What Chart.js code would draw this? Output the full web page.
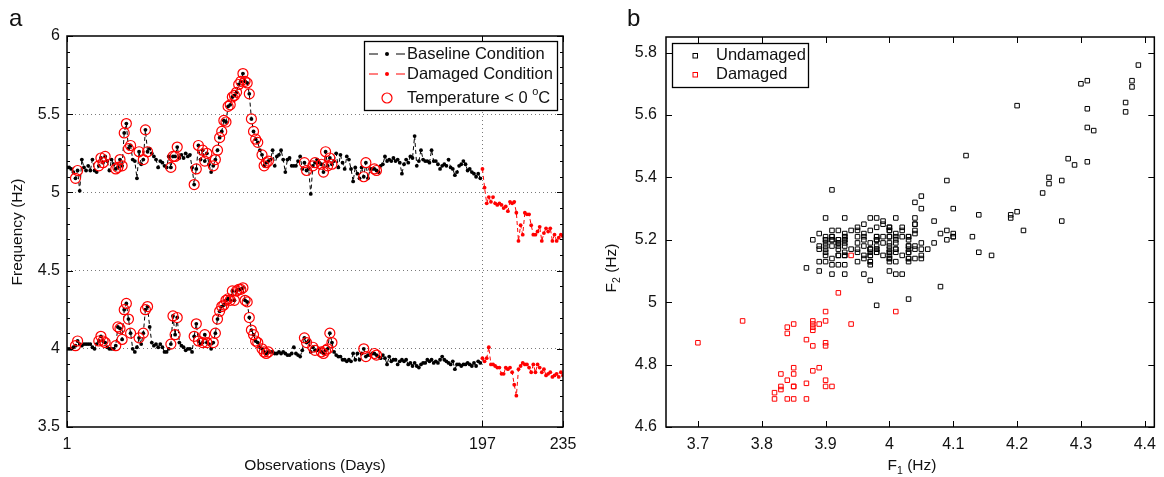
<!DOCTYPE html>
<html>
<head>
<meta charset="utf-8">
<style>
  html, body { margin: 0; background: #fff; }
  #wrap { position: relative; width: 1164px; height: 477px; }
  canvas { position: absolute; top: 0; }
</style>
<script src="https://cdn.jsdelivr.net/npm/chart.js@4.4.0/dist/chart.umd.min.js"></script>
</head>
<body>
<div id="wrap">
  <canvas id="chartA" width="590" height="477" style="left:0"></canvas>
  <canvas id="chartB" width="574" height="477" style="left:590px"></canvas>
</div>
<script>
// first natural frequency F1 (Hz), baseline days 1..196
const f1Base = [
  4.00, 4.00, 4.00, 4.01, 4.02, 4.05, 4.03, 4.02, 4.03, 4.03,
  4.03, 4.03, 4.01, 4.00, 4.03, 4.05, 4.08, 4.05, 4.04, 4.01,
  4.00, 4.00, 4.00, 4.02, 4.14, 4.13, 4.06, 4.25, 4.29, 4.19,
  4.10, 4.00, 3.98, 4.01, 4.07, 4.03, 4.10, 4.25, 4.27, 4.14,
  4.04, 4.02, 4.03, 4.01, 4.03, 4.01, 3.98, 3.98, 4.00, 4.03,
  4.21, 4.09, 4.20, 4.04, 4.02, 4.01, 3.99, 4.00, 4.00, 3.98,
  4.08, 4.16, 4.05, 4.03, 4.04, 4.09, 4.04, 4.03, 4.00, 4.04,
  4.10, 4.19, 4.24, 4.27, 4.28, 4.31, 4.32, 4.31, 4.37, 4.31,
  4.37, 4.38, 4.38, 4.39, 4.31, 4.30, 4.20, 4.12, 4.09, 4.05,
  4.04, 4.01, 4.00, 3.98, 3.97, 3.98, 3.98, 3.98, 3.97, 3.97,
  3.98, 3.97, 3.98, 3.97, 3.96, 3.96, 3.97, 4.01, 3.97, 3.96,
  3.95, 3.99, 4.07, 4.04, 4.05, 3.98, 4.01, 3.99, 3.99, 4.00,
  3.98, 3.97, 3.99, 4.00, 4.10, 4.04, 3.98, 3.96, 3.95, 3.95,
  3.93, 3.93, 3.92, 3.93, 3.92, 3.97, 3.93, 3.97, 3.93, 3.97,
  4.00, 3.95, 3.96, 3.96, 3.97, 3.97, 3.96, 3.95, 3.94, 3.96,
  3.94, 3.90, 3.95, 3.92, 3.93, 3.93, 3.90, 3.92, 3.93, 3.92,
  3.93, 3.90, 3.91, 3.89, 3.91, 3.89, 3.88, 3.90, 3.91, 3.91,
  3.93, 3.92, 3.93, 3.91, 3.92, 3.91, 3.93, 3.95, 3.93, 3.92,
  3.91, 3.90, 3.92, 3.87, 3.90, 3.90, 3.89, 3.90, 3.90, 3.91,
  3.90, 3.89, 3.91, 3.89, 3.92, 3.91
];
// second natural frequency F2 (Hz), baseline days 1..196
const f2Base = [
  5.16, 5.16, 5.15, 5.13, 5.09, 5.14, 5.01, 5.21, 5.16, 5.14,
  5.17, 5.14, 5.21, 5.14, 5.13, 5.17, 5.22, 5.19, 5.23, 5.20,
  5.14, 5.21, 5.18, 5.15, 5.16, 5.21, 5.17, 5.38, 5.44, 5.28,
  5.30, 5.21, 5.20, 5.09, 5.26, 5.18, 5.21, 5.40, 5.26, 5.28,
  5.25, 5.23, 5.21, 5.16, 5.20, 5.19, 5.17, 5.16, 5.23, 5.16,
  5.23, 5.23, 5.29, 5.22, 5.24, 5.22, 5.25, 5.23, 5.24, 5.16,
  5.05, 5.15, 5.30, 5.21, 5.27, 5.20, 5.25, 5.18, 5.13, 5.17,
  5.21, 5.27, 5.35, 5.39, 5.46, 5.45, 5.55, 5.56, 5.61, 5.62,
  5.64, 5.69, 5.71, 5.76, 5.71, 5.70, 5.63, 5.47, 5.39, 5.34,
  5.32, 5.27, 5.24, 5.17, 5.19, 5.20, 5.21, 5.27, 5.17, 5.23,
  5.24, 5.27, 5.21, 5.13, 5.21, 5.22, 5.17, 5.17, 5.17, 5.20,
  5.23, 5.15, 5.19, 5.14, 5.15, 4.99, 5.17, 5.19, 5.21, 5.19,
  5.18, 5.13, 5.26, 5.17, 5.22, 5.18, 5.20, 5.25, 5.16, 5.24,
  5.19, 5.15, 5.23, 5.21, 5.15, 5.07, 5.16, 5.12, 5.09, 5.16,
  5.10, 5.19, 5.09, 5.15, 5.15, 5.15, 5.14, 5.13, 5.17, 5.18,
  5.23, 5.20, 5.21, 5.20, 5.22, 5.20, 5.21, 5.19, 5.12, 5.18,
  5.21, 5.19, 5.23, 5.22, 5.36, 5.17, 5.20, 5.27, 5.21, 5.20,
  5.20, 5.19, 5.27, 5.20, 5.20, 5.18, 5.15, 5.17, 5.18, 5.17,
  5.21, 5.16, 5.15, 5.11, 5.13, 5.17, 5.18, 5.20, 5.18, 5.14,
  5.15, 5.13, 5.12, 5.10, 5.12, 5.09
];
// damaged condition, days 197..235
const f1Dmg = [
  3.94, 3.92, 3.94, 4.01, 3.90, 3.90, 3.89, 3.88, 3.88, 3.84,
  3.84, 3.88, 3.87, 3.88, 3.85, 3.77, 3.70, 3.87, 3.89, 3.91,
  3.90, 3.90, 3.88, 3.85, 3.90, 3.85, 3.90, 3.88, 3.85, 3.87,
  3.83, 3.84, 3.85, 3.82, 3.83, 3.84, 3.82, 3.85, 3.83
];
const f2Dmg = [
  5.15, 5.03, 4.93, 4.97, 4.94, 4.97, 4.93, 4.92, 4.93, 4.92,
  4.90, 4.91, 4.88, 4.94, 4.93, 4.94, 4.87, 4.69, 4.79, 4.73,
  4.87, 4.86, 4.86, 4.79, 4.73, 4.73, 4.75, 4.78, 4.69, 4.74,
  4.77, 4.75, 4.77, 4.69, 4.73, 4.69, 4.71, 4.73, 4.72
];
const firstDamagedDay = 197;
// days with temperature below 0 C
const freezeDays = [
  5, 6, 16, 17, 18, 19, 24, 25, 26, 27, 28, 29, 30, 31, 35, 37, 38, 39,
  50, 51, 52, 53, 61, 62, 63, 65, 66, 67, 70, 71, 72, 73, 74, 75, 76, 77,
  78, 79, 80, 81, 82, 83, 84, 85, 86, 87, 88, 89, 90, 91, 93, 94, 95, 96,
  113, 114, 117, 118, 121, 122, 123, 124, 125, 126, 141, 142, 146, 147
];

const xTicksA = [1, 197, 235];
const yTicksA = [3.5, 4, 4.5, 5, 5.5, 6];
const xTicksB = [3.7, 3.8, 3.9, 4, 4.1, 4.2, 4.3, 4.4];
const yTicksB = [4.6, 4.8, 5, 5.2, 5.4, 5.6, 5.8];

const FONT = '"Liberation Sans", Arial, Helvetica, sans-serif';
Chart.defaults.font.family = FONT;
Chart.defaults.font.size = 16;
Chart.defaults.color = '#111';

const baseDays = f1Base.map((_, i) => i + 1);
const dmgDays = f1Dmg.map((_, i) => firstDamagedDay + i);
const series = (days, vals) => vals.map((v, i) => ({ x: days[i], y: v }));
const freezePts = [];
freezeDays.forEach(d => {
  freezePts.push({ x: d, y: f2Base[d - 1] });
  freezePts.push({ x: d, y: f1Base[d - 1] });
});

// box with inward tick marks, like the matlab axes
const frame = {
  id: 'frame',
  afterDraw(chart, args, opts) {
    const { ctx, chartArea: a, scales } = chart;
    const ln = (x1, y1, x2, y2) => { ctx.beginPath(); ctx.moveTo(x1, y1); ctx.lineTo(x2, y2); ctx.stroke(); };
    ctx.save();
    ctx.strokeStyle = '#000';
    ctx.lineWidth = 1;
    const L = 6;
    scales.y.ticks.forEach(t => {
      const p = Math.round(scales.y.getPixelForValue(t.value)) + 0.5;
      ln(a.left, p, a.left + L, p);
      ln(a.right, p, a.right - L, p);
    });
    scales.x.ticks.forEach(t => {
      const p = Math.round(scales.x.getPixelForValue(t.value)) + 0.5;
      ln(p, a.bottom, p, a.bottom - L);
      ln(p, a.top, p, a.top + L);
    });
    if (opts.minorY) {
      const { min, max } = scales.y;
      const n = Math.round((max - min) / opts.minorY);
      for (let k = 0; k <= n; k++) {
        const p = Math.round(scales.y.getPixelForValue(min + k * opts.minorY)) + 0.5;
        ln(a.left, p, a.left + 3, p);
        ln(a.right, p, a.right - 3, p);
      }
    }
    ctx.lineWidth = 1.5;
    ctx.strokeRect(a.left, a.top, a.right - a.left, a.bottom - a.top);
    ctx.restore();
  }
};

// text pieces: axis titles (with subscripts), panel letter, legend box
function drawRich(ctx, parts, x, y, size, rotate) {
  ctx.save();
  ctx.translate(x, y);
  if (rotate) ctx.rotate(-Math.PI / 2);
  let w = 0;
  parts.forEach(p => {
    ctx.font = (p.sub || p.sup ? size * 0.68 : size) + 'px ' + FONT;
    w += ctx.measureText(p.t).width;
  });
  let cx = -w / 2;
  ctx.textBaseline = 'middle';
  ctx.textAlign = 'left';
  ctx.fillStyle = '#111';
  parts.forEach(p => {
    ctx.font = (p.sub || p.sup ? size * 0.68 : size) + 'px ' + FONT;
    const dy = p.sub ? size * 0.32 : p.sup ? -size * 0.38 : 0;
    ctx.fillText(p.t, cx, dy);
    cx += ctx.measureText(p.t).width;
  });
  ctx.restore();
}

const labels = {
  id: 'labels',
  afterDraw(chart, args, o) {
    const ctx = chart.ctx;
    ctx.save();
    ctx.fillStyle = '#111';
    ctx.font = '24px ' + FONT;
    ctx.textBaseline = 'alphabetic';
    ctx.fillText(o.letter, o.letterX, 26);
    o.titles.forEach(t => drawRich(ctx, t.parts, t.x, t.y, 15.5, t.rotate));

    const lg = o.legend;
    ctx.fillStyle = '#fff';
    ctx.fillRect(lg.x, lg.y, lg.w, lg.h);
    ctx.strokeStyle = '#000';
    ctx.lineWidth = 1.3;
    ctx.strokeRect(lg.x + 0.5, lg.y + 0.5, lg.w, lg.h);
    lg.items.forEach(it => {
      ctx.strokeStyle = it.color;
      ctx.fillStyle = it.color;
      ctx.lineWidth = 1;
      const sx = lg.symX;
      if (it.kind === 'line') {
        ctx.beginPath();
        ctx.moveTo(sx - 18, it.y); ctx.lineTo(sx - 9, it.y);
        ctx.moveTo(sx + 9, it.y); ctx.lineTo(sx + 18, it.y);
        ctx.stroke();
        ctx.beginPath(); ctx.arc(sx, it.y, 2, 0, Math.PI * 2); ctx.fill();
      } else if (it.kind === 'circle') {
        ctx.lineWidth = 1.2;
        ctx.beginPath(); ctx.arc(sx, it.y, 5, 0, Math.PI * 2); ctx.stroke();
      } else {
        ctx.strokeRect(sx - 2, it.y - 2, 4.5, 4.5);
      }
      ctx.fillStyle = '#111';
      ctx.textBaseline = 'middle';
      let tx = lg.textX;
      it.parts.forEach(p => {
        ctx.font = (p.sup ? 11 : 16.5) + 'px ' + FONT;
        ctx.fillText(p.t, tx, it.y + (p.sup ? -6 : 0));
        tx += ctx.measureText(p.t).width;
      });
    });
    ctx.restore();
  }
};

const gridColor = (lo, hi) => ctx =>
  (ctx.tick && ctx.tick.value > lo && ctx.tick.value < hi) ? '#7a7a7a' : 'rgba(0,0,0,0)';

// ---------- panel a: time series ----------
const lineSet = (data, color) => ({
  data,
  borderColor: color,
  borderWidth: 1,
  borderDash: [4, 3],
  pointRadius: 1.9,
  pointBackgroundColor: color,
  pointBorderWidth: 0,
  tension: 0
});

new Chart(document.getElementById('chartA'), {
  type: 'line',
  data: {
    datasets: [
      {
        data: freezePts,
        showLine: false,
        pointRadius: 5,
        pointBorderColor: '#ff0000',
        pointBackgroundColor: 'rgba(0,0,0,0)',
        pointBorderWidth: 1.2
      },
      lineSet(series(baseDays, f2Base), '#000'),
      lineSet(series(baseDays, f1Base), '#000'),
      lineSet(series(dmgDays, f2Dmg), '#ff0000'),
      lineSet(series(dmgDays, f1Dmg), '#ff0000')
    ]
  },
  options: {
    responsive: false,
    devicePixelRatio: 1,
    animation: false,
    layout: { padding: { left: 0, right: 27, top: 36, bottom: 0 } },
    scales: {
      x: {
        type: 'linear', min: 1, max: 235,
        afterBuildTicks: s => { s.ticks = xTicksA.map(v => ({ value: v })); },
        afterFit: s => { s.height = 50; },
        ticks: { autoSkip: false, maxRotation: 0, padding: 8, callback: v => String(v) },
        grid: { drawTicks: false, color: gridColor(1, 235), lineWidth: 1 },
        border: { display: false, dash: [1, 3] }
      },
      y: {
        min: 3.5, max: 6,
        afterBuildTicks: s => { s.ticks = yTicksA.map(v => ({ value: v })); },
        afterFit: s => { s.width = 67; },
        ticks: { padding: 7, callback: v => String(v) },
        grid: { drawTicks: false, color: gridColor(3.5, 6), lineWidth: 1 },
        border: { display: false, dash: [1, 3] }
      }
    },
    plugins: {
      legend: { display: false },
      tooltip: { enabled: false },
      frame: { minorY: 0.1 },
      labels: {
        letter: 'a', letterX: 9,
        titles: [
          { parts: [{ t: 'Frequency (Hz)' }], x: 18, y: 232, rotate: true },
          { parts: [{ t: 'Observations (Days)' }], x: 315, y: 466 }
        ],
        legend: {
          x: 364, y: 41, w: 193, h: 69, symX: 387, textX: 407,
          items: [
            { kind: 'line', color: '#000', y: 54, parts: [{ t: 'Baseline Condition' }] },
            { kind: 'line', color: '#ff0000', y: 74, parts: [{ t: 'Damaged Condition' }] },
            { kind: 'circle', color: '#ff0000', y: 98, parts: [{ t: 'Temperature < 0 ' }, { t: 'o', sup: true }, { t: 'C' }] }
          ]
        }
      }
    }
  },
  plugins: [frame, labels]
});

// ---------- panel b: F1 vs F2 ----------
const sqSet = (xs, ys, color) => ({
  data: xs.map((x, i) => ({ x, y: ys[i] })),
  pointStyle: 'rect',
  pointRadius: 3.2,
  pointBorderColor: color,
  pointBackgroundColor: 'rgba(0,0,0,0)',
  pointBorderWidth: 1
});

new Chart(document.getElementById('chartB'), {
  type: 'scatter',
  data: {
    datasets: [
      sqSet(f1Dmg, f2Dmg, '#ff0000'),
      sqSet(f1Base, f2Base, '#000')
    ]
  },
  options: {
    responsive: false,
    devicePixelRatio: 1,
    animation: false,
    layout: { padding: { left: 0, right: 6, top: 37, bottom: 0 } },
    scales: {
      x: {
        type: 'linear', min: 3.65, max: 4.415,
        afterBuildTicks: s => { s.ticks = xTicksB.map(v => ({ value: v })); },
        afterFit: s => { s.height = 50; },
        ticks: { autoSkip: false, maxRotation: 0, padding: 8, callback: v => String(v) },
        grid: { display: false, drawTicks: false },
        border: { display: false }
      },
      y: {
        min: 4.6, max: 5.85,
        afterBuildTicks: s => { s.ticks = yTicksB.map(v => ({ value: v })); },
        afterFit: s => { s.width = 76; },
        ticks: { padding: 9, callback: v => String(v) },
        grid: { display: false, drawTicks: false },
        border: { display: false }
      }
    },
    plugins: {
      legend: { display: false },
      tooltip: { enabled: false },
      frame: {},
      labels: {
        letter: 'b', letterX: 37,
        titles: [
          { parts: [{ t: 'F' }, { t: '2', sub: true }, { t: ' (Hz)' }], x: 22, y: 268, rotate: true },
          { parts: [{ t: 'F' }, { t: '1', sub: true }, { t: ' (Hz)' }], x: 322, y: 466 }
        ],
        legend: {
          x: 82, y: 43, w: 136, h: 44, symX: 105, textX: 126,
          items: [
            { kind: 'square', color: '#000', y: 55.5, parts: [{ t: 'Undamaged' }] },
            { kind: 'square', color: '#ff0000', y: 74.5, parts: [{ t: 'Damaged' }] }
          ]
        }
      }
    }
  },
  plugins: [frame, labels]
});
</script>
</body>
</html>
